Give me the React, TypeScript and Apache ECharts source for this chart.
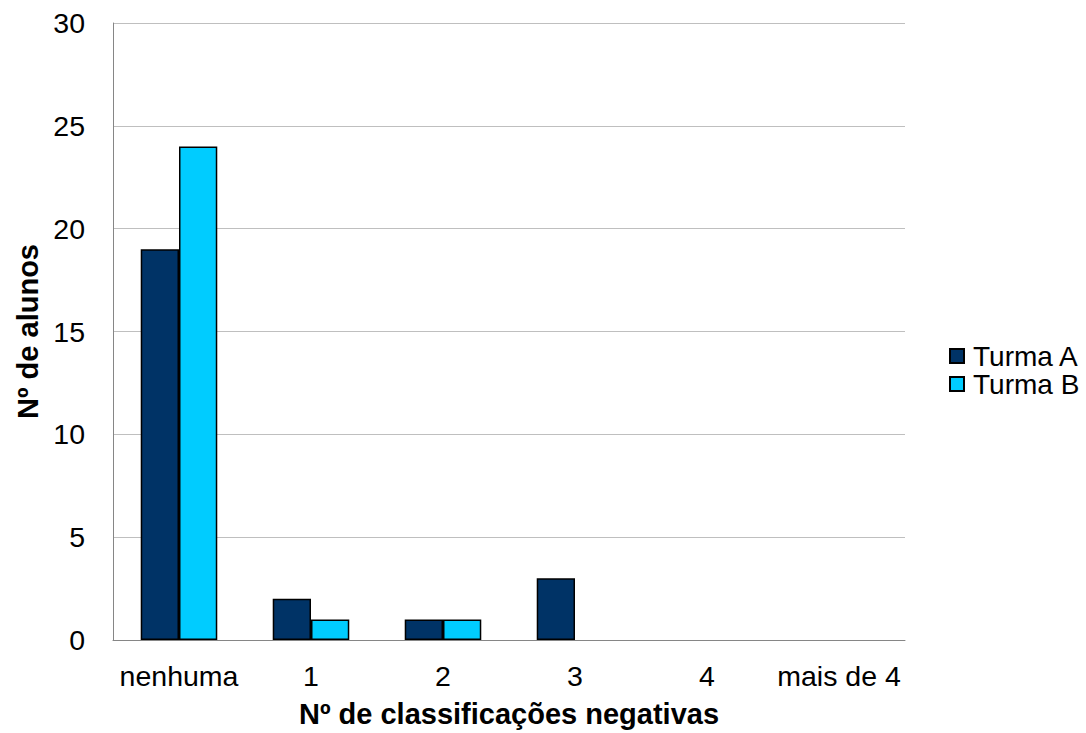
import React, { useEffect, useRef } from "react";
import * as echarts from "echarts";

const categories = ["nenhuma", "1", "2", "3", "4", "mais de 4"];
const turmaA = [19, 2, 1, 3, 0, 0];
const turmaB = [24, 1, 1, 0, 0, 0];
const seriesNames = ["Turma A", "Turma B"];
const colors = ["#003366", "#00CCFF"];

const toBarData = (vals: number[]) =>
  vals.map((v) => (v === 0 ? { value: v, itemStyle: { borderWidth: 0 } } : v));

export default function App() {
  const ref = useRef<HTMLDivElement>(null);
  useEffect(() => {
    if (!ref.current) return;
    const chart = echarts.init(ref.current, undefined, { renderer: "svg" });
    const font = "'Liberation Sans', Arial, sans-serif";
    chart.setOption({
      animation: false,
      textStyle: { fontFamily: font },
      grid: { left: 113, right: 181, top: 23, bottom: 91 },
      legend: {
        orient: "vertical",
        left: 949,
        top: 342,
        itemWidth: 14,
        itemHeight: 14,
        itemGap: 0,
        icon: "rect",
        padding: 0,
        data: seriesNames,
        textStyle: { fontSize: 28, lineHeight: 27, color: "#000", fontFamily: font, padding: [0, 0, 0, 4] },
      },
      xAxis: {
        type: "category",
        data: categories,
        name: "Nº de classificações negativas",
        nameLocation: "middle",
        nameGap: 59,
        nameTextStyle: { fontSize: 29, fontWeight: "bold", color: "#000", fontFamily: font },
        axisLine: { lineStyle: { color: "#868686", width: 1 } },
        axisTick: { show: false },
        axisLabel: { fontSize: 28.5, color: "#000", margin: 21, fontFamily: font, interval: 0 },
      },
      yAxis: {
        type: "value",
        min: 0,
        max: 30,
        interval: 5,
        name: "Nº de alunos",
        nameLocation: "middle",
        nameGap: 65,
        nameTextStyle: { fontSize: 29, fontWeight: "bold", color: "#000", fontFamily: font },
        axisLine: { show: true, lineStyle: { color: "#868686", width: 1 } },
        axisTick: { show: false },
        axisLabel: { fontSize: 28.5, color: "#000", margin: 28, fontFamily: font },
        splitLine: { lineStyle: { color: "#BFBFBF", width: 1 } },
      },
      series: [
        {
          name: seriesNames[0],
          type: "bar",
          data: toBarData(turmaA),
          barGap: "0%",
          barCategoryGap: "42%",
          itemStyle: { color: colors[0], borderColor: "#000", borderWidth: 1.5 },
        },
        {
          name: seriesNames[1],
          type: "bar",
          data: toBarData(turmaB),
          barGap: "0%",
          barCategoryGap: "42%",
          itemStyle: { color: colors[1], borderColor: "#000", borderWidth: 1.5 },
        },
      ],
    });
    return () => chart.dispose();
  }, []);
  return <div ref={ref} style={{ width: 1086, height: 733, position: "absolute", left: 0, top: 0 }} />;
}
